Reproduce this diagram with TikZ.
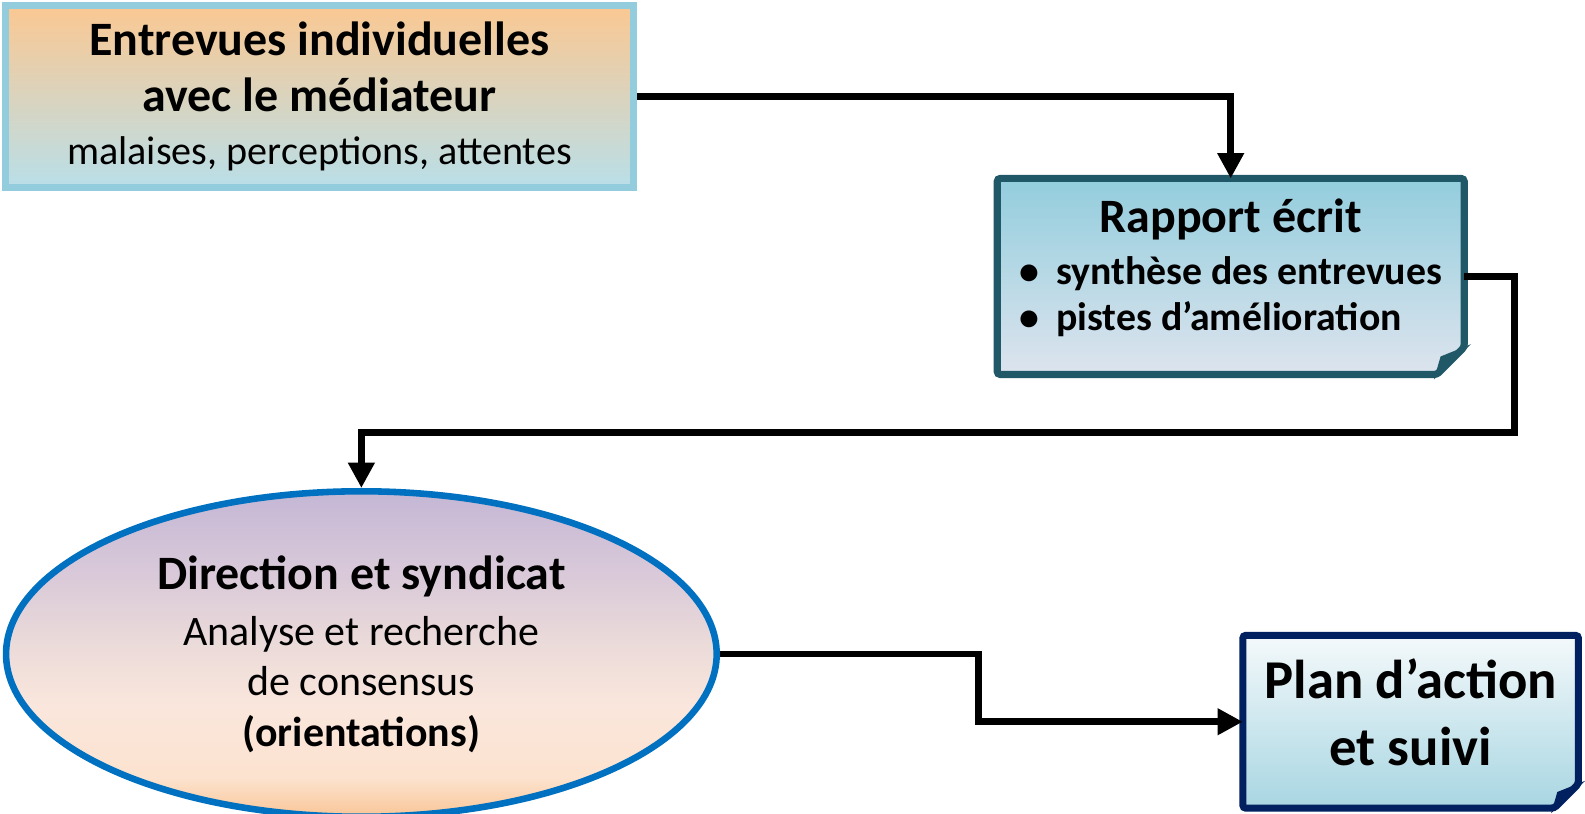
\documentclass[tikz,border=0pt]{standalone}
\usepackage{fontspec}
\setmainfont{Carlito}
\usetikzlibrary{arrows.meta,shapes.geometric,backgrounds}
\definecolor{cadreclair}{HTML}{93CDDD}
\definecolor{orangeclair}{HTML}{FBC892}
\definecolor{bleupale}{HTML}{B9DFE9}
\definecolor{tealfonce}{HTML}{215867}
\definecolor{rapporthaut}{HTML}{93CDDD}
\definecolor{rapportbas}{HTML}{DDE4EE}
\definecolor{marine}{HTML}{002060}
\definecolor{planhaut}{HTML}{F4F9FB}
\definecolor{planbas}{HTML}{A8D6E2}
\definecolor{bleuroi}{HTML}{0070C0}
\pgfdeclareverticalshading{fondellipse}{100bp}{color(0bp)=(rgb,255:red,249;green,197;blue,150);
  color(25bp)=(rgb,255:red,249;green,197;blue,150);
  color(31bp)=(rgb,255:red,252;green,227;blue,207);
  color(42bp)=(rgb,255:red,250;green,230;blue,220);
  color(52bp)=(rgb,255:red,234;green,218;blue,217);
  color(63bp)=(rgb,255:red,216;green,200;blue,217);
  color(75bp)=(rgb,255:red,196;green,183;blue,213);
  color(100bp)=(rgb,255:red,196;green,183;blue,213)}
\newcommand\grasA{\fontsize{13.5}{16}\selectfont\bfseries}
\newcommand\grasB{\fontsize{13.5}{16}\selectfont\bfseries}
\newcommand\grasC{\fontsize{15.4}{19}\selectfont\bfseries}
\begin{document}
\begin{tikzpicture}[line join=miter, >={Triangle[width=0.25cm,length=0.25cm]},
  fleche/.style={->, line width=0.065cm},
  boite/.style={rectangle, line width=0.07cm, inner sep=0, align=center},
  note/.style={rectangle, inner sep=0, outer sep=0, align=center}]
\useasboundingbox (0,0) rectangle (15.68,-8.05);

\node[boite, draw=cadreclair, top color=orangeclair, bottom color=bleupale,
  minimum width=6.21cm, minimum height=1.80cm, font=\fontsize{11.3}{14.8}\selectfont]
  (entrevues) at (3.16,-0.955)
  {{\grasA Entrevues individuelles}\\[0.9pt]{\grasA avec le médiateur}\\malaises, perceptions, attentes};

\node[note, minimum width=4.62cm, minimum height=1.94cm, text depth=12.8pt] (rapport) at (12.175,-2.735)
  {{\grasB Rapport écrit}\\[2.5pt]
   {\fontsize{11.2}{12.8}\selectfont\bfseries
   \begin{tabular}{@{}l@{}}•\hspace{0.17cm}synthèse des entrevues\\•\hspace{0.17cm}pistes d’amélioration\end{tabular}}};

\node[note, minimum width=3.32cm, minimum height=1.71cm, text depth=5.5pt,
  font=\fontsize{15.4}{19}\selectfont] (plan) at (13.955,-7.14)
  {{\grasC Plan d’action}\\{\grasC et suivi}};

\node[ellipse, draw=bleuroi, line width=0.065cm, shading=fondellipse,
  minimum width=7.03cm, minimum height=3.22cm, inner sep=0, align=center,
  font=\fontsize{11.8}{14.2}\selectfont] (direction) at (3.575,-6.47)
  {{\grasB Direction et syndicat}\\[1.5pt]Analyse et recherche\\de consensus\\\textbf{(orientations)}};

% feuilles a coin plie
\begin{pgfonlayer}{background}
\foreach \n/\c/\h/\b/\p in {rapport/tealfonce/rapporthaut/rapportbas/0.27, plan/marine/planhaut/planbas/0.24}{
  \shadedraw[draw=\c, top color=\h, bottom color=\b, line width=0.07cm, rounded corners=0.03cm]
    (\n.north west) -- (\n.north east) -- ([yshift=\p cm]\n.south east)
    -- ([xshift=-\p cm]\n.south east) -- (\n.south west) -- cycle;
  \filldraw[draw=\c, fill=\c, line width=0.03cm]
    ([xshift=-\p cm]\n.south east) -- ([shift={(-0.82*\p,0.62*\p)}]\n.south east)
    -- ([yshift=0.95*\p cm]\n.south east) -- cycle;
}
\end{pgfonlayer}

\coordinate (coude1) at (14.98,-4.28);
\coordinate (coude2) at (9.68,-7.14);
\draw[fleche] (entrevues.east) -| (rapport.north);
\draw[fleche] (rapport.east) -| (coude1) -| (direction.north);
\draw[fleche] (direction.east) -| (coude2) -- (plan.west);
\end{tikzpicture}
\end{document}
